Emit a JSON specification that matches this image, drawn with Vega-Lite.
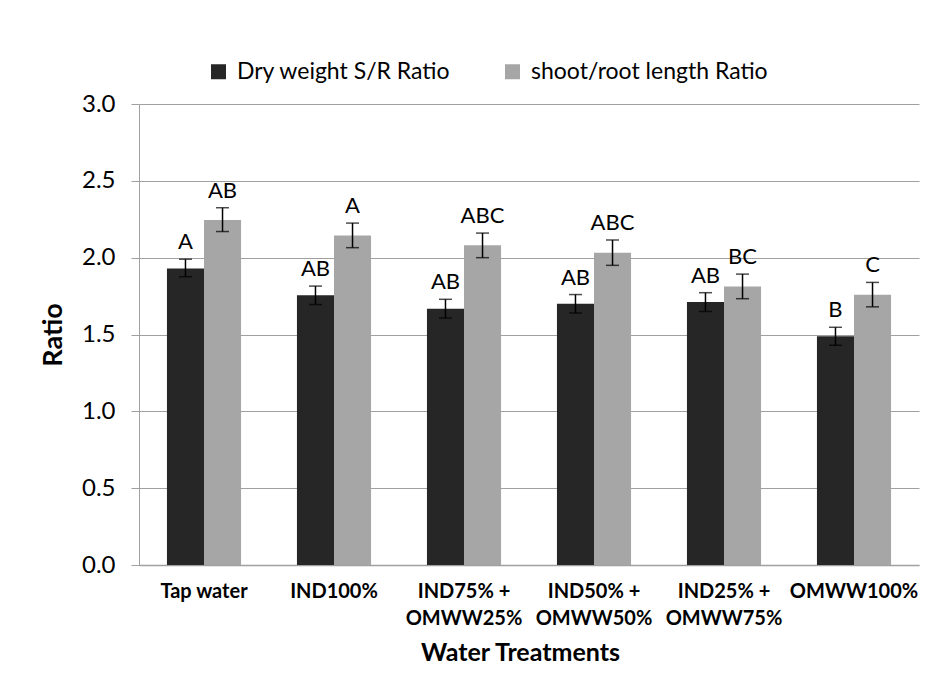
{
  "$schema": "https://vega.github.io/schema/vega-lite/v6.json",
  "width": 780,
  "height": 461,
  "autosize": {"type": "none"},
  "padding": {"left": 139, "top": 104, "right": 16, "bottom": 131},
  "background": "white",
  "config": {
    "font": "Lato",
    "view": {"stroke": null},
    "axis": {"labelFont": "Lato", "titleFont": "Lato", "labelColor": "#000000", "titleColor": "#000000"}
  },
  "data": {
    "values": [
      {"treatment": "Tap water", "series": "Dry weight S/R Ratio", "value": 1.93, "lo": 1.876, "hi": 1.99, "letter": "A"},
      {"treatment": "Tap water", "series": "shoot/root length Ratio", "value": 2.245, "lo": 2.17, "hi": 2.325, "letter": "AB"},
      {"treatment": "IND100%", "series": "Dry weight S/R Ratio", "value": 1.755, "lo": 1.695, "hi": 1.815, "letter": "AB"},
      {"treatment": "IND100%", "series": "shoot/root length Ratio", "value": 2.145, "lo": 2.065, "hi": 2.225, "letter": "A"},
      {"treatment": "IND75% + OMWW25%", "series": "Dry weight S/R Ratio", "value": 1.668, "lo": 1.607, "hi": 1.729, "letter": "AB"},
      {"treatment": "IND75% + OMWW25%", "series": "shoot/root length Ratio", "value": 2.08, "lo": 2.0, "hi": 2.16, "letter": "ABC"},
      {"treatment": "IND50% + OMWW50%", "series": "Dry weight S/R Ratio", "value": 1.7, "lo": 1.64, "hi": 1.76, "letter": "AB"},
      {"treatment": "IND50% + OMWW50%", "series": "shoot/root length Ratio", "value": 2.032, "lo": 1.95, "hi": 2.115, "letter": "ABC"},
      {"treatment": "IND25% + OMWW75%", "series": "Dry weight S/R Ratio", "value": 1.711, "lo": 1.65, "hi": 1.772, "letter": "AB"},
      {"treatment": "IND25% + OMWW75%", "series": "shoot/root length Ratio", "value": 1.813, "lo": 1.733, "hi": 1.893, "letter": "BC"},
      {"treatment": "OMWW100%", "series": "Dry weight S/R Ratio", "value": 1.488, "lo": 1.43, "hi": 1.547, "letter": "B"},
      {"treatment": "OMWW100%", "series": "shoot/root length Ratio", "value": 1.759, "lo": 1.68, "hi": 1.839, "letter": "C"}
    ]
  },
  "encoding": {
    "x": {
      "field": "treatment",
      "type": "nominal",
      "sort": null,
      "scale": {"paddingInner": 0.43, "paddingOuter": 0.215},
      "axis": {
        "title": "Water Treatments",
        "titleFontSize": 25,
        "titleFontWeight": "bold",
        "titlePadding": 12,
        "titleX": 381,
        "labelAngle": 0,
        "labelFontSize": 20,
        "labelFontWeight": "bold",
        "labelLineHeight": 27,
        "labelPadding": 16,
        "labelLimit": 300,
        "labelExpr": "length(split(datum.value, ' + ')) > 1 ? [split(datum.value, ' + ')[0] + ' +', split(datum.value, ' + ')[1]] : datum.value",
        "ticks": false,
        "domainColor": "#a0a0a0",
        "domainWidth": 1.5,
        "grid": false
      }
    },
    "xOffset": {"field": "series", "type": "nominal", "sort": ["Dry weight S/R Ratio", "shoot/root length Ratio"]}
  },
  "layer": [
    {
      "mark": {"type": "bar"},
      "encoding": {
        "y": {
          "field": "value",
          "type": "quantitative",
          "scale": {"domain": [0, 3]},
          "axis": {
            "title": "Ratio",
            "titleFontSize": 27,
            "titleFontWeight": "bold",
            "titlePadding": 14,
            "values": [0, 0.5, 1, 1.5, 2, 2.5, 3],
            "format": ".1f",
            "labelFontSize": 24,
            "labelPadding": 16,
            "tickSize": 8,
            "tickColor": "#a0a0a0",
            "domainColor": "#a0a0a0",
            "gridColor": "#a0a0a0",
            "grid": true
          }
        },
        "color": {
          "field": "series",
          "type": "nominal",
          "scale": {"domain": ["Dry weight S/R Ratio", "shoot/root length Ratio"], "range": ["#262626", "#a6a6a6"]},
          "legend": {
            "title": null,
            "orient": "none",
            "direction": "horizontal",
            "legendX": 68,
            "legendY": -44,
            "symbolType": "square",
            "symbolSize": 225,
            "symbolStrokeWidth": 0,
            "symbolOpacity": 1,
            "labelFontSize": 23,
            "labelFont": "Lato",
            "labelColor": "#000000",
            "labelLimit": 400,
            "labelOffset": 7,
            "columnPadding": 50
          }
        }
      }
    },
    {
      "mark": {"type": "rule", "color": "#000000", "strokeWidth": 1.5},
      "encoding": {
        "y": {"field": "lo", "type": "quantitative"},
        "y2": {"field": "hi"}
      }
    },
    {
      "mark": {"type": "tick", "color": "#000000", "thickness": 1.5, "size": 13},
      "encoding": {"y": {"field": "lo", "type": "quantitative"}}
    },
    {
      "mark": {"type": "tick", "color": "#000000", "thickness": 1.5, "size": 13},
      "encoding": {"y": {"field": "hi", "type": "quantitative"}}
    },
    {
      "mark": {"type": "text", "font": "Lato", "fontSize": 22, "baseline": "alphabetic", "dy": -10, "color": "#000000"},
      "encoding": {
        "y": {"field": "hi", "type": "quantitative"},
        "text": {"field": "letter"}
      }
    }
  ]
}
